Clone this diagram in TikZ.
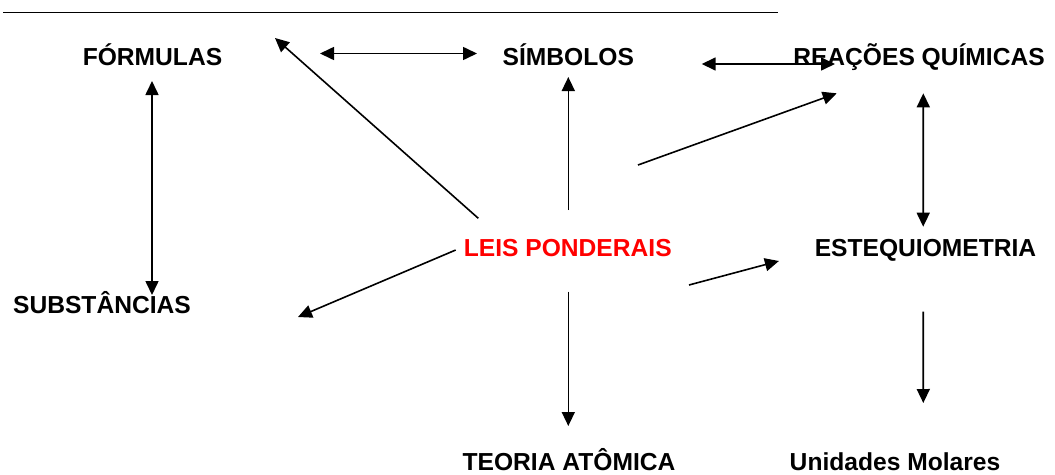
\documentclass[tikz,border=0pt]{standalone}
\usepackage{fontspec}
\setmainfont{Liberation Sans}
\usetikzlibrary{arrows.meta}

\begin{document}
\begin{tikzpicture}[x=1pt, y=-1pt, line width=1.6pt,
    >={Triangle[length=14pt,width=13pt]},
    lbl/.style={anchor=base, inner sep=0pt, font=\fontsize{24.6}{28}\selectfont\bfseries}]
\useasboundingbox (0,0) rectangle (1055,474);
\draw[line width=1.2pt] (3,12.7) -- (778,12.7);

\node[lbl] (form) at (152.5,65) {FÓRMULAS};
\node[lbl] (simb) at (568.3,65) {SÍMBOLOS};
\node[lbl] (reac) at (919,65) {REAÇÕES QUÍMICAS};
\node[lbl, red] (leis) at (567.8,256) {LEIS PONDERAIS};
\node[lbl] (esteq) at (925.5,256) {ESTEQUIOMETRIA};
\node[lbl] (subst) at (102,313) {SUBSTÂNCIAS};
\node[lbl] (teoria) at (569,470) {TEORIA ATÔMICA};
\node[lbl] (unid) at (895,470) {Unidades Molares};

% ligacoes
\draw[<->] ([shift={(167.5,-11.5)}]form.base) -- ([shift={(-91.3,-11.5)}]simb.base);
\draw[<->] ([shift={(133.4,-1)}]simb.base) -- ([shift={(-84,-1)}]reac.base);
\draw[<->] ([shift={(-0.5,16)}]form.base) -- ([shift={(50,-18)}]subst.base);
\draw[<->] ([shift={(4.3,28.3)}]reac.base) -- ([shift={(-2.3,-29.3)}]esteq.base);
\draw[->] ([shift={(-89.5,-37.7)}]leis.base) -- ([shift={(122.5,-27)}]form.base);
\draw[->] ([shift={(0.5,-46)}]leis.base) -- ([shift={(0,12)}]simb.base);
\draw[->] ([shift={(70.2,-91)}]leis.base) -- ([shift={(-82.3,28.3)}]reac.base);
\draw[->] ([shift={(-112.1,-6)}]leis.base) -- ([shift={(196,4)}]subst.base);
\draw[->] ([shift={(121.2,29)}]leis.base) -- ([shift={(-146.6,5)}]esteq.base);
\draw[->] ([shift={(0.5,35.7)}]leis.base) -- ([shift={(-0.7,-44)}]teoria.base);
\draw[->] ([shift={(-2.3,55.7)}]esteq.base) -- ([shift={(28.3,-67)}]unid.base);
\end{tikzpicture}
\end{document}
